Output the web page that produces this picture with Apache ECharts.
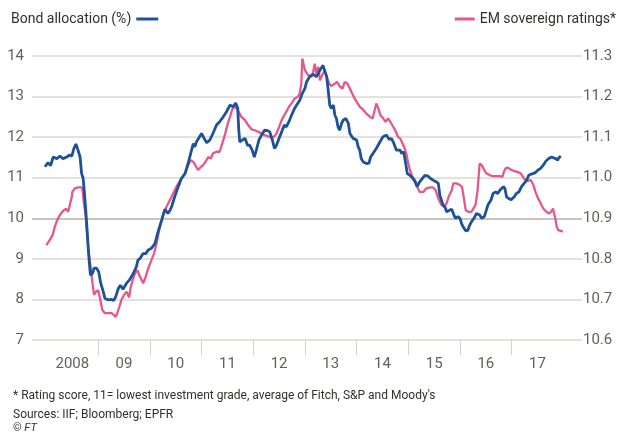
<!DOCTYPE html>
<html><head><meta charset="utf-8">
<script src="https://cdn.jsdelivr.net/npm/echarts@6/dist/echarts.min.js"></script>
<style>html,body{margin:0;padding:0;background:#fff}#c{width:617px;height:433px}</style>
</head><body><div id="c"></div>
<script>
// Bond allocation (%) — left axis
const blueYears = [2007.97,2008.03,2008.08,2008.13,2008.20,2008.26,2008.32,2008.39,2008.45,2008.49,2008.53,2008.57,2008.61,2008.65,2008.68,2008.71,2008.73,2008.76,2008.79,2008.81,2008.83,2008.85,2008.89,2008.92,2008.97,2009.01,2009.05,2009.09,2009.13,2009.19,2009.26,2009.30,2009.34,2009.39,2009.43,2009.48,2009.55,2009.61,2009.68,2009.74,2009.77,2009.81,2009.87,2009.92,2009.97,2010.03,2010.10,2010.16,2010.23,2010.29,2010.35,2010.39,2010.42,2010.48,2010.55,2010.61,2010.68,2010.74,2010.79,2010.84,2010.87,2010.90,2010.93,2011.00,2011.05,2011.10,2011.16,2011.22,2011.29,2011.35,2011.42,2011.48,2011.55,2011.58,2011.61,2011.66,2011.70,2011.72,2011.74,2011.79,2011.84,2011.89,2011.93,2011.98,2012.02,2012.06,2012.11,2012.16,2012.22,2012.28,2012.32,2012.37,2012.41,2012.45,2012.50,2012.55,2012.60,2012.64,2012.69,2012.74,2012.80,2012.86,2012.90,2012.95,2013.00,2013.03,2013.09,2013.16,2013.22,2013.26,2013.29,2013.32,2013.35,2013.38,2013.42,2013.45,2013.48,2013.51,2013.55,2013.58,2013.61,2013.64,2013.67,2013.71,2013.74,2013.79,2013.84,2013.87,2013.93,2014.00,2014.03,2014.06,2014.09,2014.13,2014.19,2014.24,2014.27,2014.32,2014.38,2014.45,2014.51,2014.58,2014.63,2014.67,2014.71,2014.77,2014.84,2014.87,2014.91,2014.95,2014.98,2015.03,2015.09,2015.13,2015.17,2015.22,2015.27,2015.32,2015.38,2015.43,2015.48,2015.54,2015.58,2015.61,2015.64,2015.67,2015.71,2015.74,2015.77,2015.80,2015.84,2015.87,2015.91,2015.96,2016.00,2016.03,2016.06,2016.11,2016.15,2016.18,2016.22,2016.27,2016.32,2016.35,2016.38,2016.42,2016.47,2016.51,2016.54,2016.60,2016.64,2016.69,2016.73,2016.77,2016.80,2016.84,2016.87,2016.90,2016.94,2016.99,2017.05,2017.09,2017.14,2017.19,2017.24,2017.29,2017.33,2017.38,2017.45,2017.51,2017.56,2017.61,2017.65,2017.71,2017.77,2017.80,2017.85,2017.89,2017.91,2017.95];
const blueValues = [11.27,11.37,11.30,11.51,11.47,11.53,11.47,11.51,11.56,11.53,11.72,11.83,11.68,11.51,11.10,10.98,10.69,10.20,9.63,9.22,8.89,8.60,8.64,8.77,8.77,8.68,8.40,8.23,8.03,7.99,8.00,7.97,8.07,8.27,8.35,8.25,8.40,8.49,8.64,8.81,8.97,9.01,9.13,9.13,9.22,9.26,9.38,9.67,9.96,10.22,10.12,10.20,10.28,10.53,10.78,10.98,11.10,11.35,11.60,11.84,11.76,11.88,11.84,12.09,11.97,11.86,11.93,12.09,12.30,12.38,12.50,12.62,12.79,12.83,12.75,12.84,12.71,12.17,11.88,11.93,11.97,11.80,11.80,11.68,11.51,11.68,11.93,12.05,12.17,12.16,12.13,11.93,11.72,11.80,11.97,12.13,12.30,12.25,12.38,12.54,12.71,12.83,12.91,13.08,13.20,13.36,13.49,13.55,13.49,13.57,13.65,13.69,13.77,13.77,13.49,13.16,12.79,12.71,12.79,12.54,12.46,12.25,12.17,12.34,12.42,12.46,12.34,12.09,11.97,11.93,11.76,11.68,11.47,11.39,11.35,11.36,11.51,11.60,11.72,11.88,12.01,12.05,11.94,11.97,11.88,11.68,11.68,11.60,11.64,11.35,11.10,11.06,10.98,10.90,10.78,10.90,10.98,11.06,11.04,10.98,10.94,10.90,10.86,10.57,10.45,10.33,10.28,10.16,10.12,10.20,10.22,10.12,10.00,10.04,10.00,9.87,9.79,9.69,9.70,9.81,9.91,10.00,10.12,10.14,10.08,10.00,10.04,10.20,10.33,10.45,10.61,10.65,10.61,10.69,10.73,10.78,10.73,10.53,10.49,10.46,10.53,10.61,10.65,10.78,10.86,10.94,11.06,11.09,11.12,11.19,11.23,11.31,11.39,11.47,11.51,11.51,11.47,11.43,11.49,11.53];

// EM sovereign ratings* — right axis
const pinkYears = [2008.00,2008.07,2008.12,2008.16,2008.21,2008.26,2008.32,2008.38,2008.42,2008.45,2008.49,2008.50,2008.55,2008.61,2008.68,2008.70,2008.72,2008.76,2008.79,2008.82,2008.85,2008.89,2008.92,2008.96,2009.00,2009.03,2009.05,2009.08,2009.13,2009.19,2009.26,2009.30,2009.34,2009.37,2009.41,2009.45,2009.50,2009.55,2009.60,2009.63,2009.67,2009.71,2009.76,2009.81,2009.87,2009.92,2009.97,2010.03,2010.08,2010.13,2010.18,2010.23,2010.26,2010.29,2010.32,2010.42,2010.48,2010.55,2010.61,2010.68,2010.74,2010.79,2010.84,2010.88,2010.93,2010.99,2011.03,2011.08,2011.13,2011.18,2011.22,2011.29,2011.35,2011.40,2011.45,2011.50,2011.55,2011.59,2011.63,2011.68,2011.72,2011.77,2011.84,2011.90,2011.97,2012.03,2012.10,2012.16,2012.22,2012.29,2012.35,2012.40,2012.45,2012.50,2012.55,2012.60,2012.64,2012.69,2012.74,2012.80,2012.86,2012.90,2012.93,2012.95,2013.00,2013.06,2013.13,2013.16,2013.19,2013.22,2013.26,2013.29,2013.32,2013.35,2013.38,2013.42,2013.47,2013.51,2013.58,2013.62,2013.68,2013.73,2013.77,2013.82,2013.87,2013.93,2014.00,2014.06,2014.13,2014.19,2014.26,2014.31,2014.35,2014.38,2014.42,2014.46,2014.51,2014.56,2014.61,2014.65,2014.71,2014.76,2014.80,2014.84,2014.89,2014.93,2014.96,2015.00,2015.03,2015.08,2015.13,2015.17,2015.22,2015.29,2015.35,2015.42,2015.48,2015.53,2015.58,2015.61,2015.64,2015.69,2015.74,2015.78,2015.84,2015.87,2015.93,2016.00,2016.04,2016.08,2016.11,2016.16,2016.22,2016.25,2016.30,2016.34,2016.36,2016.38,2016.42,2016.47,2016.51,2016.58,2016.64,2016.71,2016.77,2016.82,2016.85,2016.88,2016.93,2016.98,2017.03,2017.09,2017.16,2017.20,2017.25,2017.31,2017.37,2017.42,2017.46,2017.51,2017.56,2017.61,2017.67,2017.72,2017.76,2017.80,2017.82,2017.85,2017.87,2017.90,2017.95,2017.99];
const pinkValues = [10.834,10.848,10.859,10.879,10.896,10.908,10.918,10.924,10.916,10.913,10.953,10.965,10.974,10.976,10.976,10.969,10.941,10.904,10.855,10.813,10.785,10.740,10.711,10.719,10.723,10.719,10.694,10.674,10.666,10.666,10.666,10.662,10.657,10.666,10.682,10.699,10.711,10.719,10.705,10.731,10.748,10.764,10.772,10.756,10.740,10.756,10.777,10.797,10.813,10.838,10.871,10.896,10.912,10.920,10.928,10.953,10.969,10.986,10.998,11.010,11.031,11.043,11.039,11.031,11.019,11.027,11.031,11.040,11.051,11.047,11.060,11.064,11.064,11.084,11.105,11.130,11.150,11.167,11.175,11.171,11.162,11.150,11.142,11.130,11.119,11.117,11.113,11.109,11.105,11.102,11.099,11.101,11.109,11.125,11.142,11.154,11.162,11.175,11.183,11.195,11.199,11.208,11.232,11.294,11.265,11.253,11.249,11.261,11.281,11.257,11.273,11.240,11.249,11.257,11.265,11.249,11.232,11.226,11.232,11.236,11.224,11.220,11.236,11.232,11.220,11.203,11.187,11.175,11.167,11.158,11.150,11.146,11.167,11.183,11.171,11.154,11.147,11.138,11.146,11.138,11.125,11.113,11.101,11.097,11.084,11.072,11.060,11.035,11.019,11.002,10.994,10.978,10.965,10.965,10.974,10.976,10.976,10.969,10.949,10.941,10.933,10.928,10.937,10.953,10.969,10.986,10.986,10.982,10.977,10.945,10.920,10.916,10.916,10.922,10.933,10.969,11.002,11.035,11.031,11.019,11.011,11.006,11.004,11.004,11.004,11.002,11.015,11.023,11.025,11.020,11.017,11.015,11.012,11.006,10.996,10.992,10.994,10.982,10.965,10.949,10.937,10.924,10.916,10.912,10.916,10.924,10.912,10.896,10.879,10.871,10.869,10.867];

const tickYears = [2009,2010,2011,2012,2013,2014,2015,2016,2017];
const yearLabels = ['2008','09','10','11','12','13','14','15','16','17'];
const labelPositions = [2008.5,2009.5,2010.5,2011.5,2012.5,2013.5,2014.5,2015.5,2016.5,2017.5];

const seriesNames = ['Bond allocation (%)', 'EM sovereign ratings*'];
const footnotes = ["* Rating score, 11= lowest investment grade, average of Fitch, S&P and Moody's", 'Sources: IIF; Bloomberg; EPFR'];

const FONT = 'Roboto, "Liberation Sans", sans-serif';
const GREY = '#66605c';
const zip = (xs, ys) => xs.map((x, i) => [x, ys[i]]);

const chart = echarts.init(document.getElementById('c'), null, {renderer: 'canvas'});
chart.setOption({
  animation: false,
  backgroundColor: '#fff',
  textStyle: {fontFamily: FONT},
  title: [
    {text: footnotes[0], left: 8, top: 385, textStyle: {fontSize: 12, fontWeight: 'normal', color: '#33302e', fontFamily: FONT}},
    {text: footnotes[1], left: 8, top: 404, textStyle: {fontSize: 12, fontWeight: 'normal', color: '#33302e', fontFamily: FONT}},
    {text: '© {i|FT}', left: 8, top: 418, textStyle: {fontSize: 11, fontWeight: 'normal', color: '#33302e', fontFamily: FONT, rich: {i: {fontStyle: 'italic', fontSize: 11, color: '#33302e', fontFamily: FONT}}}}
  ],
  legend: [
    {data: [seriesNames[0]], left: 6, top: 7, align: 'right', icon: 'rect', itemWidth: 22, itemHeight: 3,
     textStyle: {fontSize: 14, color: '#33302e', fontFamily: FONT}},
    {data: [seriesNames[1]], right: -4, top: 7, align: 'left', icon: 'rect', itemWidth: 20, itemHeight: 3,
     textStyle: {fontSize: 14, color: '#33302e', fontFamily: FONT}}
  ],
  grid: {left: 32, right: 35, top: 56, bottom: 93},
  xAxis: {
    type: 'value', min: 2007.72, max: 2018.36,
    axisLine: {show: false},
    splitLine: {show: false},
    axisTick: {show: true, customValues: tickYears, length: 15, lineStyle: {color: '#d6d2ca', width: 1}},
    axisLabel: {customValues: labelPositions, margin: 17, fontSize: 15, color: GREY, fontFamily: FONT,
      formatter: v => yearLabels[labelPositions.findIndex(p => Math.abs(p - v) < 1e-6)]}
  },
  yAxis: [
    {type: 'value', min: 7, max: 14, interval: 1, position: 'left',
     axisLine: {show: false}, axisTick: {show: false},
     axisLabel: {margin: 8, fontSize: 15, color: GREY, fontFamily: FONT},
     splitLine: {show: true, lineStyle: {color: ['#dcd8d0','#dcd8d0','#dcd8d0','#b5b0a6','#dcd8d0','#dcd8d0','#dcd8d0','#dcd8d0'], width: 1.5}}},
    {type: 'value', min: 10.6, max: 11.3, interval: 0.1, position: 'right',
     axisLine: {show: false}, axisTick: {show: false}, splitLine: {show: false},
     axisLabel: {margin: 1, fontSize: 15, color: GREY, fontFamily: FONT, formatter: v => v.toFixed(1)}}
  ],
  series: [
    {name: seriesNames[1], type: 'line', yAxisIndex: 1, data: zip(pinkYears, pinkValues), symbol: 'none',
     color: '#e8578c', lineStyle: {width: 2.3, color: '#e8578c'}},
    {name: seriesNames[0], type: 'line', yAxisIndex: 0, data: zip(blueYears, blueValues), symbol: 'none',
     color: '#1d5296', lineStyle: {width: 2.8, color: '#1d5296'}}
  ]
});
</script></body></html>
